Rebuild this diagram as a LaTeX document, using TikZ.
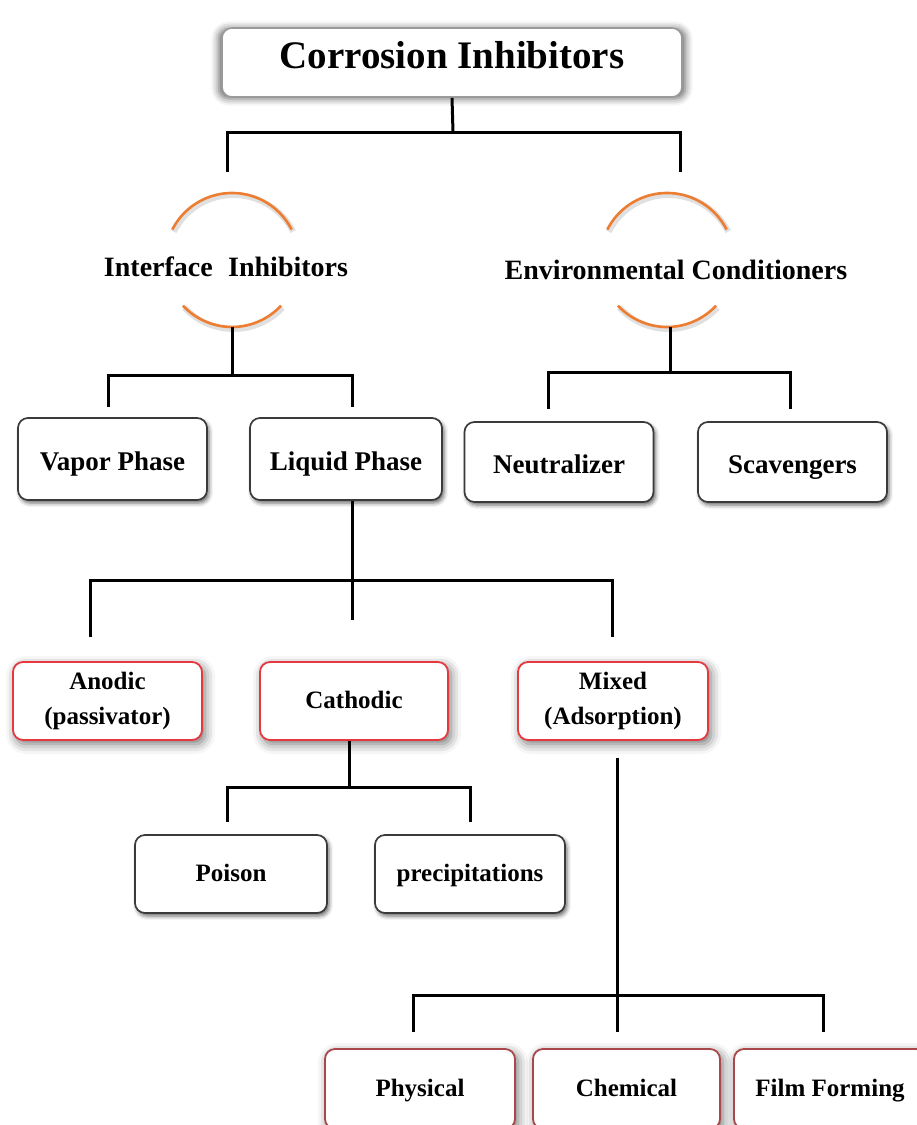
\documentclass[tikz,border=0pt]{standalone}
\usepackage{fontspec}
\setmainfont{Liberation Serif}
\usetikzlibrary{shadows.blur}
\definecolor{boxgray}{HTML}{3A3A3A}
\definecolor{boxred}{HTML}{E5393F}
\definecolor{boxdred}{HTML}{A8484A}
\definecolor{ringorange}{HTML}{ED7D31}
\definecolor{topgray}{HTML}{9A9A9A}
\begin{document}
\begin{tikzpicture}[x=1pt,y=-1pt,
  conn/.style={line width=3pt, black},
  basebox/.style={rounded corners=10pt, fill=white, align=center, inner sep=0pt},
  topbox/.style={basebox, draw=topgray, line width=1.6pt, minimum width=460pt, minimum height=69pt,
     font=\bfseries\fontsize{39}{44}\selectfont, text height=28pt, text depth=16pt,
     blur shadow={shadow xshift=0pt, shadow yshift=-1pt, shadow blur radius=7pt, shadow scale=1.015, shadow opacity=60}},
  gbox/.style={basebox, draw=boxgray, line width=1.7pt, minimum width=189pt, minimum height=80pt,
     font=\bfseries\fontsize{27}{32}\selectfont, text height=23.8pt, text depth=0pt,
     blur shadow={shadow xshift=2pt, shadow yshift=-3pt, shadow blur radius=4pt, shadow opacity=60}},
  sbox/.style={gbox, font=\bfseries\fontsize{25}{30}\selectfont, minimum height=78pt, text height=17.5pt, text depth=3pt},
  rbase/.style={basebox, draw=boxred, line width=1.8pt, minimum width=189pt, minimum height=78pt,
     font=\bfseries\fontsize{25}{35}\selectfont,
     blur shadow={shadow xshift=3pt, shadow yshift=-4pt, shadow blur radius=10pt, shadow opacity=55}},
  rbox/.style={rbase, text height=17.5pt, text depth=3pt},
  dbox/.style={rbox, draw=boxdred, minimum height=80pt},
  ring/.style={circle, draw=none, minimum size=134pt, inner sep=0pt},
  clabel/.style={font=\bfseries\fontsize{28}{32}\selectfont, inner sep=0pt},
  arcline/.style={line width=2.6pt, ringorange},
  arcshadow/.style={line width=6pt, black, opacity=0.12}
]
\useasboundingbox (0,0) rectangle (917,1125);
\clip (0,0) rectangle (917,1125);

% title
\node[topbox] (top) at (452,62.5) {Corrosion Inhibitors};

% rings
\node[ring] (iic) at (232,260) {};
\node[ring] (ecc) at (667,260) {};
\foreach \c in {iic,ecc}{
  \draw[arcshadow] ([shift={(1.5,2)}]\c.center) ++(-153:67) arc[start angle=-153, end angle=-27, radius=67];
  \draw[arcshadow] ([shift={(1.5,2)}]\c.center) ++(137:67) arc[start angle=137, end angle=43, radius=67];
  \draw[arcline] (\c.center) ++(-153:67) arc[start angle=-153, end angle=-27, radius=67];
  \draw[arcline] (\c.center) ++(137:67) arc[start angle=137, end angle=43, radius=67];
}
\node[clabel] (ii) at (226,267) {Interface\hspace{0.3em} Inhibitors};
\node[clabel] (ec) at (676,270) {Environmental Conditioners};

% row 2
\node[gbox, minimum height=82pt] (vap) at (112.5,459) {Vapor Phase};
\node[gbox, minimum height=82pt, minimum width=192pt] (liq) at (346,459) {Liquid Phase};
\node[gbox] (neu) at (559,462) {Neutralizer};
\node[gbox] (sca) at (792.5,462) {Scavengers};

% row 3
\node[rbase] (an) at (107.5,701) {Anodic\\(passivator)};
\node[rbox, minimum width=188pt] (ca) at (354,701) {Cathodic};
\node[rbase, minimum width=190pt] (mx) at (613,701) {Mixed\\(Adsorption)};

% row 4
\node[sbox, minimum width=192pt] (po) at (231,874) {Poison};
\node[sbox, minimum width=190pt] (pr) at (470,874) {precipitations};

% row 5
\node[dbox, minimum width=190pt] (ph) at (420,1089) {Physical};
\node[dbox, minimum width=187pt] (ch) at (626.5,1089) {Chemical};
\node[dbox, minimum width=192pt] (fi) at (830,1089) {Film Forming};

% connectors: title
\coordinate (j0) at (453,132);
\coordinate (a1) at (227,172);
\coordinate (a2) at (680,172);
\draw[conn] (top.south) -- (j0);
\draw[conn] (a1) |- (j0) -| (a2);

% interface inhibitors
\coordinate (b0) at (232,375);
\draw[conn] (iic.south) -- (b0);
\draw[conn] ([xshift=-4.5pt,yshift=10pt]vap.north) |- (b0) -| ([xshift=6pt,yshift=10pt]liq.north);

% environmental conditioners
\coordinate (c0) at (670,372);
\draw[conn] ([xshift=3pt]ecc.south) -- (c0);
\draw[conn] ([xshift=-11pt,yshift=12pt]neu.north) |- (c0) -| ([xshift=-2.5pt,yshift=12pt]sca.north);

% liquid phase
\coordinate (d0) at (352,580);
\draw[conn] ([xshift=6pt]liq.south) -- (d0) -- ++(0,40);
\draw[conn] ([xshift=-17.5pt,yshift=24pt]an.north) |- (d0) -| ([xshift=-1pt,yshift=24pt]mx.north);

% cathodic
\coordinate (e0) at (349,787);
\draw[conn] ([xshift=-5pt]ca.south) -- (e0);
\draw[conn] ([xshift=-4pt,yshift=12pt]po.north) |- (e0) -| ([yshift=12pt]pr.north);

% mixed
\coordinate (f0) at (617,995);
\draw[conn] ([xshift=4pt,yshift=-17pt]mx.south) -- (f0) -- ([xshift=-9.5pt,yshift=16pt]ch.north);
\draw[conn] ([xshift=-7pt,yshift=16pt]ph.north) |- (f0) -| ([xshift=-7pt,yshift=16pt]fi.north);
\end{tikzpicture}
\end{document}
